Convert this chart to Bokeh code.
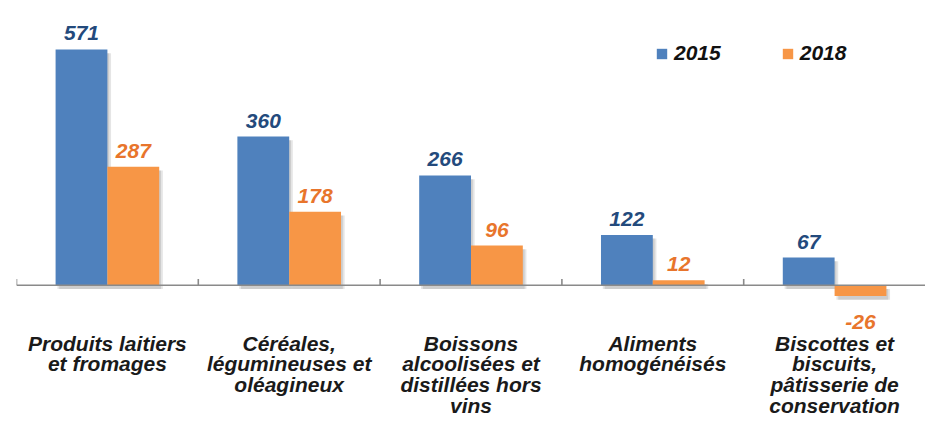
import numpy as np
from bokeh.plotting import figure
from bokeh.models import ColumnDataSource, FactorRange, Range1d, Span, Legend, LegendItem
from bokeh.transform import dodge
from bokeh.core.properties import value
from bokeh.embed import file_html
from bokeh.resources import INLINE

# ---- data ----
categories = [
    "Produits laitiers\net fromages",
    "Céréales,\nlégumineuses et\noléagineux",
    "Boissons\nalcoolisées et\ndistillées hors\nvins",
    "Aliments\nhomogénéisés",
    "Biscottes et\nbiscuits,\npâtisserie de\nconservation",
]
series = ["2015", "2018"]
values_2015 = [571, 360, 266, 122, 67]
values_2018 = [287, 178, 96, 12, -26]

# ---- style ----
FONT = "Liberation Sans"
BLUE = "#4F81BD"
ORANGE = "#F79646"
BLUE_TXT = "#234a7c"
ORANGE_TXT = "#e8752c"
AXIS_GREY = "#8a8a8a"
BAR_W = 0.285
OFF = 0.1425
SH_X = 0.02     # shadow offset in category units
SH_Y = 9        # shadow offset in value units

v15 = np.array(values_2015, dtype=float)
v18 = np.array(values_2018, dtype=float)

src = ColumnDataSource(dict(
    cat=categories,
    v2015=v15, v2018=v18,
    t2015=[str(v) for v in values_2015],
    t2018=[str(v) for v in values_2018],
    o2015=np.where(v15 >= 0, -16, 26),
    o2018=np.where(v18 >= 0, -16, 26),
    s15_top=np.maximum(v15, 0) - SH_Y, s15_bot=np.minimum(v15, 0) - SH_Y,
    s18_top=np.maximum(v18, 0) - SH_Y, s18_bot=np.minimum(v18, 0) - SH_Y,
))

p = figure(
    x_range=FactorRange(factors=categories, range_padding=0, factor_padding=0),
    y_range=Range1d(-112, 689.6),
    width=925, height=419,
    output_backend="svg", toolbar_location=None,
    y_axis_location=None,
    min_border_left=16, min_border_right=0, min_border_top=0, min_border_bottom=0,
)
p.outline_line_color = None
p.xgrid.grid_line_color = None
p.ygrid.grid_line_color = None
p.background_fill_color = "white"
p.border_fill_color = "white"

xr = p.x_range

# shadows
for k, a in ((1, 0.10), (0.5, 0.10)):
    p.vbar(x=dodge("cat", -OFF + SH_X * k, range=xr), top="s15_top", bottom="s15_bot",
           width=BAR_W, source=src, fill_color="black", fill_alpha=a, line_color=None)
    p.vbar(x=dodge("cat", OFF + SH_X * k, range=xr), top="s18_top", bottom="s18_bot",
           width=BAR_W, source=src, fill_color="black", fill_alpha=a, line_color=None)

b1 = p.vbar(x=dodge("cat", -OFF, range=xr), top="v2015", bottom=0, width=BAR_W,
            source=src, fill_color=BLUE, line_color=None)
b2 = p.vbar(x=dodge("cat", OFF, range=xr), top="v2018", bottom=0, width=BAR_W,
            source=src, fill_color=ORANGE, line_color=None)

# zero axis line and group ticks
p.add_layout(Span(location=0, dimension="width", line_color=AXIS_GREY, line_width=1.6))
p.segment(x0=dodge("cat", -0.5, range=xr), x1=dodge("cat", -0.5, range=xr),
          y0=0, y1=15, source=src, line_color=AXIS_GREY, line_width=1.6)

# value labels
p.text(x=dodge("cat", -OFF, range=xr), y="v2015", text="t2015", y_offset="o2015",
       source=src, text_align="center", text_baseline="alphabetic",
       text_font=value(FONT), text_font_style="bold italic", text_font_size="21px",
       text_color=BLUE_TXT)
p.text(x=dodge("cat", OFF, range=xr), y="v2018", text="t2018", y_offset="o2018",
       source=src, text_align="center", text_baseline="alphabetic",
       text_font=value(FONT), text_font_style="bold italic", text_font_size="21px",
       text_color=ORANGE_TXT)

# category axis
ax = p.xaxis[0]
ax.axis_line_color = None
ax.major_tick_line_color = None
ax.minor_tick_line_color = None
ax.major_tick_out = 0
ax.major_tick_in = 0
ax.major_label_standoff = 0
ax.major_label_text_font = FONT
ax.major_label_text_font_style = "bold italic"
ax.major_label_text_font_size = "21px"
ax.major_label_text_line_height = 0.9
ax.major_label_text_color = "#1a1a1a"

# legend
legend = Legend(
    items=[LegendItem(label=series[0], renderers=[b1]),
           LegendItem(label=series[1], renderers=[b2])],
    orientation="horizontal", location=(639, 266),
    glyph_width=13, glyph_height=13, label_standoff=6, spacing=60,
    padding=0, margin=0, border_line_color=None, background_fill_alpha=0,
    label_text_font=FONT, label_text_font_style="bold italic",
    label_text_font_size="21px", label_text_color="#111111",
)
p.add_layout(legend)

open("out.html", "w").write(file_html(p, INLINE))
